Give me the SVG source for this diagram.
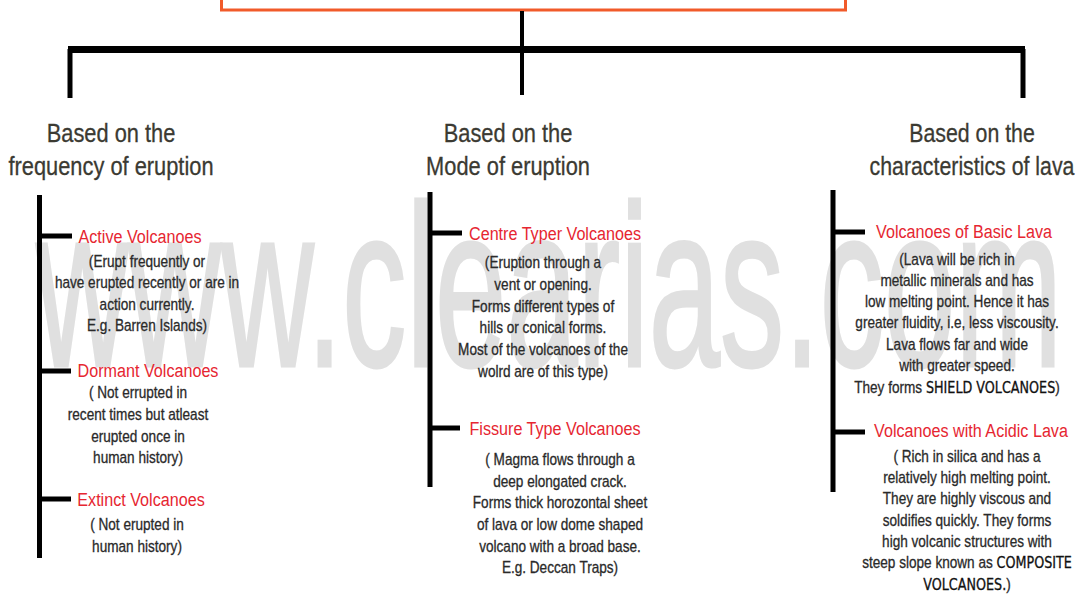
<svg xmlns="http://www.w3.org/2000/svg" width="1077" height="595" viewBox="0 0 1077 595">
<style>
.wm{font-family:"Liberation Sans",Arial,sans-serif;font-size:230px;fill:#e0e0e0;stroke:#e0e0e0;stroke-width:3}
.hd{font-family:"Liberation Sans",Arial,sans-serif;font-size:26px;fill:#3b3a32;text-anchor:middle;stroke:#3b3a32;stroke-width:0.3}
.tt{font-family:"Liberation Sans",Arial,sans-serif;font-size:19px;fill:#e62631;text-anchor:middle}
.bd{font-family:"Liberation Sans",Arial,sans-serif;font-size:16px;fill:#2a2a2a;text-anchor:middle;stroke:#2a2a2a;stroke-width:0.3}
.cap{font-family:"DejaVu Sans",Verdana,sans-serif;font-size:15px;fill:#111;stroke:#111}
.ln{stroke:#000;fill:none;stroke-linecap:butt}
</style>
<rect width="1077" height="595" fill="#fff"/>
<text class="wm" x="36" y="366" textLength="1026" lengthAdjust="spacingAndGlyphs">www.clearias.com</text>

<g id="root">
<rect x="221.5" y="-20" width="624" height="30" fill="none" stroke="#f15a2a" stroke-width="3"/>
</g>

<g id="connectors">
<line class="ln" x1="522" y1="11" x2="522" y2="95" stroke-width="4"/>
<line class="ln" x1="68" y1="49.5" x2="1025" y2="49.5" stroke-width="7"/>
<line class="ln" x1="70" y1="49" x2="70" y2="98" stroke-width="5"/>
<line class="ln" x1="1023" y1="49" x2="1023" y2="98" stroke-width="5"/>
<line class="ln" x1="39.5" y1="195" x2="39.5" y2="558" stroke-width="5"/>
<line class="ln" x1="39" y1="236" x2="72" y2="236" stroke-width="5"/>
<line class="ln" x1="39" y1="371" x2="71" y2="371" stroke-width="5"/>
<line class="ln" x1="39" y1="499" x2="71" y2="499" stroke-width="5"/>
<line class="ln" x1="430" y1="192" x2="430" y2="487" stroke-width="5"/>
<line class="ln" x1="430" y1="233" x2="462" y2="233" stroke-width="5"/>
<line class="ln" x1="430" y1="428" x2="460" y2="428" stroke-width="5"/>
<line class="ln" x1="833" y1="190" x2="833" y2="492" stroke-width="5"/>
<line class="ln" x1="833" y1="232" x2="865" y2="232" stroke-width="5"/>
<line class="ln" x1="833" y1="432" x2="865" y2="432" stroke-width="5"/>
</g>

<g id="cat-frequency" transform="translate(111,0) scale(0.84,1)">
<text class="hd" x="0" y="142">Based on the</text>
<text class="hd" x="0" y="175">frequency of eruption</text>
</g>
<g id="cat-mode" transform="translate(508,0) scale(0.84,1)">
<text class="hd" x="0" y="142">Based on the</text>
<text class="hd" x="0" y="175">Mode of eruption</text>
</g>
<g id="cat-lava" transform="translate(972,0) scale(0.82,1)">
<text class="hd" x="0" y="142">Based on the</text>
<text class="hd" x="0" y="175">characteristics of lava</text>
</g>

<g id="active">
<g transform="translate(140,0) scale(0.85,1)"><text class="tt" x="0" y="243">Active Volcanoes</text></g>
<g transform="translate(147,0) scale(0.85,1)">
<text class="bd" x="0" y="267">(Erupt frequently or</text>
<text class="bd" x="0" y="288">have erupted recently or are in</text>
<text class="bd" x="0" y="310">action currently.</text>
<text class="bd" x="0" y="331">E.g. Barren Islands)</text>
</g>
</g>

<g id="dormant">
<g transform="translate(148,0) scale(0.85,1)"><text class="tt" x="0" y="377">Dormant Volcanoes</text></g>
<g transform="translate(138,0) scale(0.85,1)">
<text class="bd" x="0" y="398">( Not errupted in</text>
<text class="bd" x="0" y="420">recent times but atleast</text>
<text class="bd" x="0" y="442">erupted once in</text>
<text class="bd" x="0" y="463">human history)</text>
</g>
</g>

<g id="extinct">
<g transform="translate(141,0) scale(0.85,1)"><text class="tt" x="0" y="506">Extinct Volcanoes</text></g>
<g transform="translate(137,0) scale(0.85,1)">
<text class="bd" x="0" y="530">( Not erupted in</text>
<text class="bd" x="0" y="552">human history)</text>
</g>
</g>

<g id="centre">
<g transform="translate(555,0) scale(0.85,1)"><text class="tt" x="0" y="240">Centre Typer Volcanoes</text></g>
<g transform="translate(543,0) scale(0.85,1)">
<text class="bd" x="0" y="268">(Eruption through a</text>
<text class="bd" x="0" y="290">vent or opening.</text>
<text class="bd" x="0" y="312">Forms different types of</text>
<text class="bd" x="0" y="333">hills or conical forms.</text>
<text class="bd" x="0" y="355">Most of the volcanoes of the</text>
<text class="bd" x="0" y="377">wolrd are of this type)</text>
</g>
</g>

<g id="fissure">
<g transform="translate(555,0) scale(0.85,1)"><text class="tt" x="0" y="435">Fissure Type Volcanoes</text></g>
<g transform="translate(560,0) scale(0.85,1)">
<text class="bd" x="0" y="465">( Magma flows through a</text>
<text class="bd" x="0" y="487">deep elongated crack.</text>
<text class="bd" x="0" y="508">Forms thick horozontal sheet</text>
<text class="bd" x="0" y="530">of lava or low dome shaped</text>
<text class="bd" x="0" y="552">volcano with a broad base.</text>
<text class="bd" x="0" y="573">E.g. Deccan Traps)</text>
</g>
</g>

<g id="basic">
<g transform="translate(964,0) scale(0.85,1)"><text class="tt" x="0" y="238">Volcanoes of Basic Lava</text></g>
<g transform="translate(957,0) scale(0.85,1)">
<text class="bd" x="0" y="265">(Lava will be rich in</text>
<text class="bd" x="0" y="286">metallic minerals and has</text>
<text class="bd" x="0" y="307">low melting point. Hence it has</text>
<text class="bd" x="0" y="328">greater fluidity, i.e, less viscousity.</text>
<text class="bd" x="0" y="350">Lava flows far and wide</text>
<text class="bd" x="0" y="371">with greater speed.</text>
<text class="bd" x="0" y="393">They forms <tspan class="cap">SHIELD VOLCANOES</tspan>)</text>
</g>
</g>

<g id="acidic">
<g transform="translate(971,0) scale(0.85,1)"><text class="tt" x="0" y="437">Volcanoes with Acidic Lava</text></g>
<g transform="translate(967,0) scale(0.85,1)">
<text class="bd" x="0" y="462">( Rich in silica and has a</text>
<text class="bd" x="0" y="483">relatively high melting point.</text>
<text class="bd" x="0" y="504">They are highly viscous and</text>
<text class="bd" x="0" y="526">soldifies quickly. They forms</text>
<text class="bd" x="0" y="547">high volcanic structures with</text>
<text class="bd" x="0" y="568">steep slope known as <tspan class="cap">COMPOSITE</tspan></text>
<text class="bd" x="0" y="590"><tspan class="cap">VOLCANOES.</tspan>)</text>
</g>
</g>
</svg>
